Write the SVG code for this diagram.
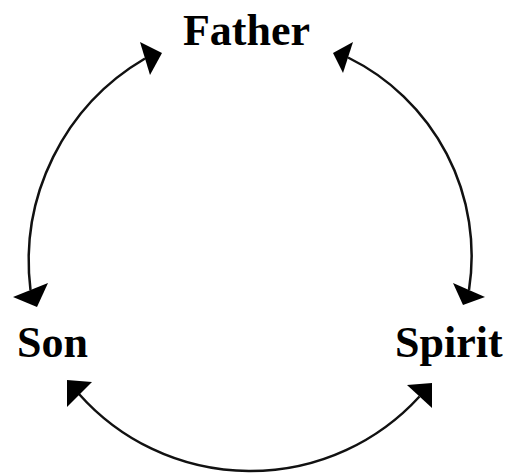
<svg xmlns="http://www.w3.org/2000/svg" width="506" height="475" viewBox="0 0 506 475">
  <style>
    .lbl { font-family: "Liberation Serif", "Times New Roman", serif; font-weight: bold; font-size: 44px; fill: #000; }
    .arc { fill: none; stroke: #111; stroke-width: 2.5; }
    .head { fill: #000; }
  </style>
  <rect width="506" height="475" fill="#fff"/>
  <g id="father">
    <text class="lbl" x="246.5" y="45" text-anchor="middle">Father</text>
  </g>
  <g id="son">
    <text class="lbl" x="17" y="357">Son</text>
  </g>
  <g id="spirit">
    <text class="lbl" x="395" y="357">Spirit</text>
  </g>
  <g id="connectors">
    <path class="arc" d="M145,58.5 A235,235 0 0 0 30.5,290"/>
    <polygon class="head" points="140,42 162,53 150,75"/>
    <polygon class="head" points="13,297 48,283 37,307"/>
    <path class="arc" d="M348,57.5 A221,221 0 0 1 469,290"/>
    <polygon class="head" points="353,42 333,53 343,73"/>
    <polygon class="head" points="453,283 485,297 463,305"/>
    <path class="arc" d="M79,394 A229,229 0 0 0 419.5,396.5"/>
    <polygon class="head" points="67,380 92,382 67,407"/>
    <polygon class="head" points="407,385 432,383 432,408"/>
  </g>
</svg>
